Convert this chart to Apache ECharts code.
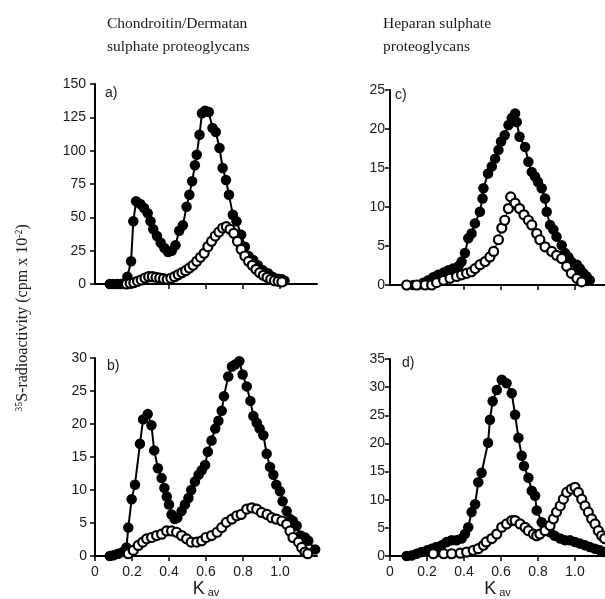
<!DOCTYPE html>
<html><head><meta charset="utf-8">
<script src="https://cdn.jsdelivr.net/npm/echarts@6/dist/echarts.min.js"></script>
<style>html,body{margin:0;padding:0;background:#fff}#c{width:605px;height:599px}</style>
</head><body><div id="c"></div>
<script>
// Kav tick labels
const kavTicks = [0, 0.2, 0.4, 0.6, 0.8, 1.0];
const kavTicksTop = [0.2, 0.4, 0.6, 0.8, 1.0];

// Panel a) Chondroitin/Dermatan sulphate PG
const aFilled = [[0.08,0],[0.10,0],[0.12,0],[0.14,0],[0.16,0.5],[0.175,5.5],[0.195,17],[0.207,47],[0.222,62],[0.245,60],[0.265,57],[0.285,53],[0.30,47],[0.315,41],[0.335,36],[0.355,31],[0.375,27],[0.395,24],[0.415,25],[0.435,29],[0.455,40],[0.475,44],[0.495,58],[0.51,67],[0.525,77],[0.54,89],[0.55,97],[0.565,112],[0.578,128],[0.595,130],[0.615,129],[0.635,117],[0.653,114],[0.673,102],[0.69,87],[0.708,78],[0.724,67],[0.745,52],[0.765,47],[0.79,37],[0.81,28],[0.83,21],[0.855,18],[0.88,14],[0.905,10.5],[0.935,8],[0.96,5.5],[0.99,4],[1.01,3.5],[1.025,2.5]];
const aOpen = [[0.17,0],[0.19,0.5],[0.21,1],[0.23,2],[0.25,3],[0.27,4.5],[0.29,5.5],[0.31,5.5],[0.33,5],[0.35,4.5],[0.37,4],[0.39,3.5],[0.41,4.3],[0.43,5.5],[0.45,7],[0.47,8.5],[0.49,10],[0.51,12],[0.53,14],[0.55,17],[0.57,20],[0.59,23],[0.61,28],[0.63,32],[0.65,36],[0.67,39],[0.69,42],[0.71,43],[0.73,41],[0.75,38],[0.77,32],[0.79,26],[0.81,21],[0.83,17],[0.85,14],[0.87,11],[0.89,8.5],[0.91,6.5],[0.93,5],[0.95,3.5],[0.97,2.5],[0.99,2],[1.01,1.5]];

// Panel b)
const bFilled = [[0.08,0],[0.10,0.1],[0.125,0.35],[0.15,0.6],[0.17,1.3],[0.18,4.3],[0.198,8.6],[0.216,10.8],[0.243,17],[0.26,20.7],[0.285,21.5],[0.305,19.8],[0.32,16],[0.34,13.3],[0.36,11.8],[0.375,10.3],[0.388,9],[0.40,7.8],[0.414,6.3],[0.43,5.6],[0.445,5.8],[0.468,6.8],[0.486,7.8],[0.505,8.8],[0.52,10],[0.54,11.3],[0.56,12.3],[0.577,13],[0.595,13.8],[0.61,15.8],[0.63,17.5],[0.65,19.3],[0.667,20.5],[0.685,22],[0.697,24.2],[0.72,27.2],[0.74,28.7],[0.757,29],[0.78,29.5],[0.798,27.5],[0.82,25.7],[0.84,23.5],[0.856,21.2],[0.874,20.2],[0.89,19.3],[0.91,18.3],[0.928,15.5],[0.946,13.5],[0.964,12.3],[0.98,10.8],[1.0,9.8],[1.014,8.3],[1.036,6.8],[1.054,5.6],[1.07,5.3],[1.09,4.6],[1.11,3.1],[1.135,2.8],[1.153,2.3],[1.19,1]];
const bOpen = [[0.18,0.35],[0.207,0.85],[0.234,1.6],[0.258,2.1],[0.279,2.6],[0.306,2.8],[0.333,3.1],[0.36,3.3],[0.387,3.8],[0.414,3.8],[0.441,3.6],[0.468,3.1],[0.495,2.6],[0.52,2.1],[0.55,2.1],[0.577,2.3],[0.60,2.8],[0.63,3.1],[0.66,3.6],[0.685,4.3],[0.71,5.1],[0.74,5.6],[0.766,6.1],[0.79,6.3],[0.82,7.1],[0.847,7.3],[0.874,7.1],[0.90,6.6],[0.93,6.3],[0.955,5.8],[0.98,5.6],[1.01,5.3],[1.036,4.8],[1.054,3.8],[1.07,2.8],[1.10,2.1],[1.117,1.3],[1.135,0.6],[1.15,0.35]];

// Panel c) Heparan sulphate PG
const cFilled = [[0.09,0],[0.126,0],[0.153,0],[0.18,0.3],[0.207,0.6],[0.234,1.0],[0.26,1.3],[0.29,1.6],[0.315,1.9],[0.34,2.1],[0.37,2.4],[0.387,3.0],[0.405,4.1],[0.423,6.0],[0.441,6.6],[0.459,7.9],[0.486,9.4],[0.50,11.1],[0.505,12.4],[0.53,14.3],[0.55,15.2],[0.568,16.2],[0.586,17.3],[0.60,18.4],[0.62,19.2],[0.64,20.5],[0.658,21.4],[0.676,22.0],[0.685,20.9],[0.70,19.0],[0.73,17.7],[0.748,15.8],[0.766,14.5],[0.784,13.9],[0.80,13.2],[0.82,12.4],[0.838,11.1],[0.847,9.4],[0.865,7.7],[0.883,7.1],[0.90,6.2],[0.928,5.1],[0.946,4.1],[0.964,3.6],[0.98,3.0],[1.01,2.6],[1.027,2.1],[1.045,1.5],[1.063,1.1],[1.08,0.6]];
const cOpen = [[0.09,0],[0.144,0],[0.19,0],[0.225,0],[0.252,0.3],[0.29,0.6],[0.324,0.85],[0.36,1.1],[0.387,1.3],[0.414,1.5],[0.44,1.7],[0.46,2.1],[0.486,2.6],[0.514,3.0],[0.54,3.6],[0.56,4.3],[0.586,5.8],[0.604,7.3],[0.62,8.3],[0.64,9.8],[0.652,11.3],[0.676,10.5],[0.70,9.8],[0.724,9.0],[0.748,8.3],[0.766,7.7],[0.793,6.6],[0.81,5.8],[0.838,4.9],[0.874,4.3],[0.90,3.8],[0.928,3.4],[0.955,2.4],[0.98,1.5],[1.01,0.85],[1.036,0.4]];

// Panel d)
const dFilled = [[0.09,0],[0.117,0.1],[0.144,0.4],[0.17,0.7],[0.20,1.0],[0.225,1.3],[0.25,1.6],[0.28,1.9],[0.306,2.5],[0.333,2.8],[0.36,2.8],[0.387,3.1],[0.405,3.9],[0.423,5.1],[0.441,7.8],[0.46,9.2],[0.477,13.1],[0.495,14.8],[0.53,20.1],[0.54,24.2],[0.555,27.5],[0.577,29.5],[0.604,31.3],[0.63,30.7],[0.658,28.9],[0.676,25.1],[0.694,21.0],[0.712,17.8],[0.724,16.0],[0.748,13.9],[0.766,11.6],[0.784,10.7],[0.793,8.1],[0.82,6.0],[0.838,5.1],[0.865,4.2],[0.89,3.6],[0.92,3.1],[0.946,2.8],[0.973,2.8],[1.0,2.5],[1.027,2.2],[1.054,1.9],[1.08,1.6],[1.108,1.3],[1.135,1.0],[1.16,0.7]];
const dOpen = [[0.234,0.4],[0.29,0.4],[0.333,0.4],[0.38,0.5],[0.414,0.7],[0.45,1.0],[0.477,1.3],[0.505,1.9],[0.52,2.5],[0.55,3.1],[0.577,3.9],[0.604,5.1],[0.63,5.7],[0.658,6.3],[0.676,6.3],[0.703,5.7],[0.73,5.1],[0.748,4.5],[0.775,3.9],[0.793,3.6],[0.81,3.9],[0.838,4.5],[0.865,5.4],[0.883,6.6],[0.90,7.8],[0.92,8.9],[0.937,10.1],[0.955,11.3],[0.98,11.9],[1.0,12.2],[1.018,11.3],[1.036,10.1],[1.054,8.9],[1.072,7.8],[1.09,6.6],[1.108,5.7],[1.126,4.5],[1.144,3.6],[1.16,3.1]];

const yMax = [150, 30, 25, 35];
const yStep = [25, 5, 5, 5];

const numFont = 'Liberation Sans, Arial, sans-serif';
const serifFont = 'Liberation Serif, Times New Roman, serif';

const grids = [
  {left: 95, top: 84, width: 222, height: 200},
  {left: 95, top: 358, width: 222, height: 201},
  {left: 390, top: 90, width: 215, height: 195},
  {left: 390, top: 359, width: 215, height: 198}
];
const xMaxes = [1.2, 1.2, 1.162, 1.162];
const showX = [false, true, false, true];
const yMargin = [9, 8, 5, 5];

const xAxes = grids.map((g, i) => ({
  type: 'value', gridIndex: i, min: 0, max: xMaxes[i], interval: 0.2,
  axisLine: {show: true, lineStyle: {color: '#000', width: 2}},
  axisTick: {show: true, inside: false, length: 5, lineStyle: {color: '#000', width: 1.5},
    customValues: showX[i] ? kavTicks : kavTicksTop},
  axisLabel: {show: showX[i], customValues: kavTicks, fontFamily: numFont, fontSize: 14, color: '#1a1a1a', margin: 9,
    formatter: v => v === 0 ? '0' : v.toFixed(1)},
  splitLine: {show: false},
  name: showX[i] ? '{k|K}{s| av}' : '',
  nameLocation: 'middle', nameGap: 24,
  nameTextStyle: {rich: {k: {fontSize: 18, fontFamily: numFont, color: '#1a1a1a', lineHeight: 18},
                         s: {fontSize: 11, fontFamily: numFont, color: '#1a1a1a', verticalAlign: 'bottom', lineHeight: 18}}}
}));

const yAxes = grids.map((g, i) => ({
  type: 'value', gridIndex: i, min: 0, max: yMax[i], interval: yStep[i],
  axisLine: {show: true, lineStyle: {color: '#000', width: 2}},
  axisTick: {show: true, inside: false, length: 5, lineStyle: {color: '#000', width: 1.5}},
  axisLabel: {fontFamily: numFont, fontSize: 14, color: '#1a1a1a', margin: yMargin[i]},
  splitLine: {show: false}
}));

function filled(data, i) {
  return {type: 'line', xAxisIndex: i, yAxisIndex: i, data: data, symbol: 'circle', symbolSize: 10.5,
    lineStyle: {color: '#000', width: 2}, itemStyle: {color: '#000'}, z: 2, animation: false, silent: true};
}
function open(data, i) {
  return {type: 'line', xAxisIndex: i, yAxisIndex: i, data: data, symbol: 'circle', symbolSize: 9,
    showAllSymbol: true,
    lineStyle: {color: '#000', width: 1.2}, itemStyle: {color: '#fff', borderColor: '#000', borderWidth: 2.2}, z: 3, animation: false, silent: true};
}

const panelLabels = [
  {t: 'a)', x: 105, y: 86}, {t: 'b)', x: 107, y: 359}, {t: 'c)', x: 395, y: 88}, {t: 'd)', x: 402, y: 356}
];

const graphics = panelLabels.map(p => ({type: 'text', x: p.x, y: p.y,
  style: {text: p.t, fontFamily: numFont, fontSize: 14, fill: '#1a1a1a'}}));
graphics.push({type: 'text', x: 107, y: 12, style: {text: 'Chondroitin/Dermatan\nsulphate proteoglycans', fontFamily: serifFont, fontSize: 15.5, lineHeight: 23, fill: '#1a1a1a'}});
graphics.push({type: 'text', x: 383, y: 12, style: {text: 'Heparan sulphate\nproteoglycans', fontFamily: serifFont, fontSize: 15.5, lineHeight: 23, fill: '#1a1a1a'}});
graphics.push({type: 'text', x: 23, y: 318, rotation: Math.PI / 2,
  style: {text: '{sup|35}{m|S-radioactivity (cpm x 10}{sup|-2}{m|)}', align: 'center', verticalAlign: 'middle',
    rich: {m: {fontFamily: serifFont, fontSize: 16, fill: '#1a1a1a', lineHeight: 18},
           sup: {fontFamily: serifFont, fontSize: 10, fill: '#1a1a1a', verticalAlign: 'top', lineHeight: 18}}}});

const chart = echarts.init(document.getElementById('c'), null, {renderer: 'canvas'});
chart.setOption({
  animation: false,
  grid: grids,
  xAxis: xAxes,
  yAxis: yAxes,
  series: [filled(aFilled,0), open(aOpen,0), filled(bFilled,1), open(bOpen,1),
           filled(cFilled,2), open(cOpen,2), filled(dFilled,3), open(dOpen,3)],
  graphic: graphics
});
</script></body></html>
